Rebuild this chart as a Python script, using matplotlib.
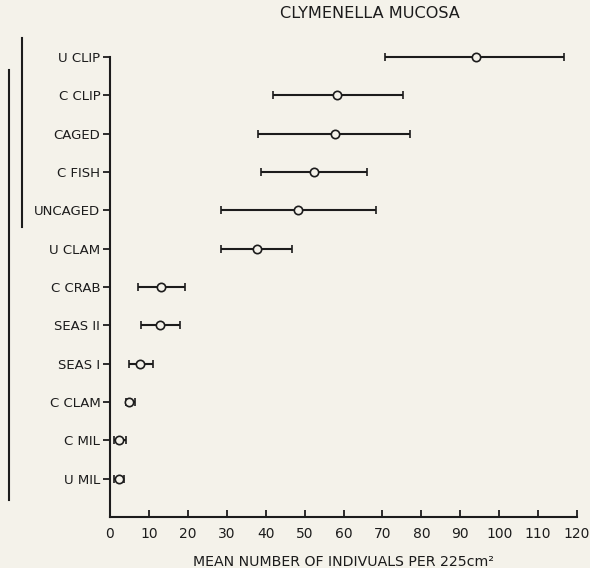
import matplotlib
matplotlib.use("Agg")
import matplotlib.pyplot as plt
from matplotlib.lines import Line2D

# Treatments, top to bottom as drawn
treatments = ["U CLIP", "C CLIP", "CAGED", "C FISH", "UNCAGED", "U CLAM",
              "C CRAB", "SEAS II", "SEAS I", "C CLAM", "C MIL", "U MIL"]
means = [94.1, 58.3, 57.7, 52.3, 48.3, 37.7, 13.2, 12.9, 7.8, 5.0, 2.4, 2.2]
lows = [70.6, 41.8, 38.0, 38.7, 28.5, 28.5, 7.3, 7.9, 4.9, 4.0, 1.1, 1.1]
highs = [116.7, 75.2, 77.1, 66.0, 68.4, 46.7, 19.4, 18.0, 11.1, 6.4, 4.0, 3.7]
x_ticks = list(range(0, 121, 10))

bg = "#f4f2ea"
ink = "#1c1c1c"
plt.rcParams["font.family"] = ["DejaVu Sans"]

W, H = 590, 568
fig = plt.figure(figsize=(W / 100, H / 100), dpi=100, facecolor=bg)
ax = fig.add_axes([110 / W, 1 - 517 / H, (577 - 110) / W, (517 - 57) / H])
ax.set_facecolor(bg)

n = len(treatments)
ypos = [n - i for i in range(n)]
err_lo = [m - lo for m, lo in zip(means, lows)]
err_hi = [hi - m for m, hi in zip(means, highs)]

eb = ax.errorbar(means, ypos, xerr=[err_lo, err_hi], fmt="o", color=ink,
                 ecolor=ink, elinewidth=1.5, capsize=3, capthick=1.5,
                 markersize=6, markerfacecolor=bg, markeredgecolor=ink,
                 markeredgewidth=1.2, zorder=3)
for art in eb.get_children():
    art.set_clip_on(False)

ax.set_xlim(0, 120)
ax.set_ylim(0, n)
ax.set_xticks(x_ticks)
ax.set_yticks(ypos)
ax.set_yticklabels(treatments)

for s in ["top", "right"]:
    ax.spines[s].set_visible(False)
for s in ["left", "bottom"]:
    ax.spines[s].set_color(ink)
    ax.spines[s].set_linewidth(1.5)

ax.tick_params(axis="x", direction="in", length=5, width=1.3, colors=ink,
               labelsize=10, pad=7.5)
ax.tick_params(axis="y", direction="out", length=5, width=1.3, colors=ink,
               labelsize=9.5, pad=2)

ax.set_xlabel("MEAN NUMBER OF INDIVUALS PER 225cm²", fontsize=10.2,
              color=ink, labelpad=10)
fig.text(370 / W, 1 - 14 / H, "CLYMENELLA MUCOSA", ha="center", va="center",
         fontsize=11.6, color=ink)

# grouping lines at the far left
fig.add_artist(Line2D([22 / W, 22 / W], [1 - 38 / H, 1 - 227 / H],
                      color=ink, lw=1.5))
fig.add_artist(Line2D([9 / W, 9 / W], [1 - 70 / H, 1 - 500 / H],
                      color=ink, lw=1.5))

fig.savefig("out.png", dpi=100, facecolor=bg)
